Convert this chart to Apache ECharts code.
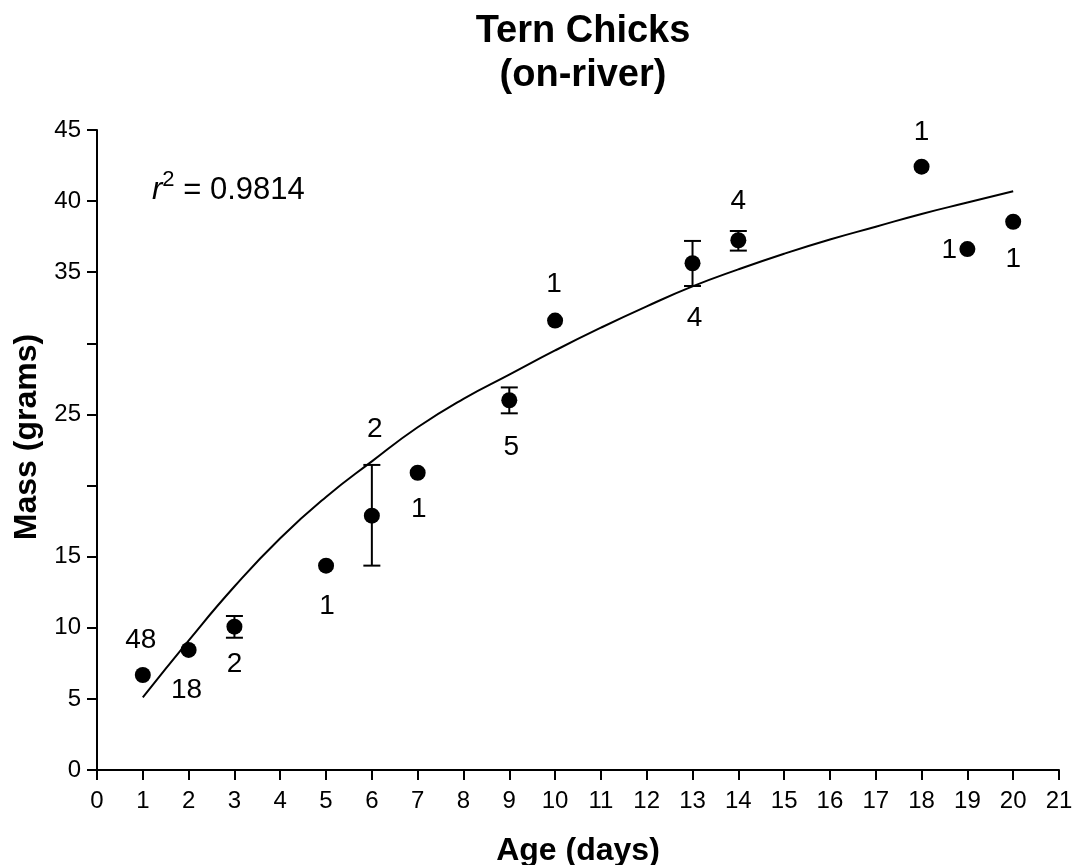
<!DOCTYPE html>
<html>
<head>
<meta charset="utf-8">
<title>Tern Chicks (on-river)</title>
<script src="https://cdn.jsdelivr.net/npm/echarts@6/dist/echarts.min.js"></script>
<style>
  html, body { margin: 0; padding: 0; background: #fff; }
  #chart { width: 1074px; height: 865px; }
</style>
</head>
<body>
<div id="chart"></div>
<script>
// Age (days) of each sampled group and mean mass (g)
const ages = [1, 2, 3, 5, 6, 7, 9, 10, 13, 14, 18, 19, 20];
const meanMass = [6.68, 8.44, 10.08, 14.37, 17.88, 20.9, 26.0, 31.6, 35.63, 37.25, 42.42, 36.63, 38.55];
// sample size printed next to each point
const sampleSizes = ["48", "18", "2", "1", "2", "1", "5", "1", "4", "4", "1", "1", "1"];

// error bars (low, high) where drawn
const errAges = [3, 6, 9, 13, 14];
const errLow = [9.30, 14.37, 25.08, 34.03, 36.52];
const errHigh = [10.83, 21.45, 26.9, 37.2, 37.9];

// fitted growth curve
const fitAges = [1, 2, 3, 4, 5, 6, 7, 8, 9, 10, 11, 12, 13, 14, 15, 16, 17, 18, 19, 20];
const fitMass = [5.1, 9.1, 12.9, 16.3, 19.2, 21.7, 24.1, 26.1, 27.8, 29.5, 31.1, 32.6, 34.0, 35.2, 36.3, 37.3, 38.2, 39.1, 39.9, 40.7];

// y tick labels (20 and 30 left blank as in the original)
const yTickLabels = ["0", "5", "10", "15", "", "25", "", "35", "40", "45"];

const FONT = "'Liberation Sans', Arial, sans-serif";
const INK = "#000";

// label placement next to each point (px offsets from the marker centre)
const labelOffsets = [
  [-2, -35], [-2, 40], [0, 38], [1, 41], [3, -86], [1, 37], [2, 47],
  [-1, -36], [2, 55], [0, -39], [0, -34], [-18, 1], [0, 38]
];

const chart = echarts.init(document.getElementById("chart"), null, { renderer: "canvas" });

const axisCommon = {
  type: "value",
  nameLocation: "middle",
  nameTextStyle: { fontFamily: FONT, fontSize: 32, fontWeight: "bold", color: INK },
  axisLine: { show: true, lineStyle: { color: INK, width: 2 } },
  axisTick: { show: true, inside: false, length: 10, lineStyle: { color: INK, width: 2 } },
  splitLine: { show: false },
};

chart.setOption({
  animation: false,
  backgroundColor: "#fff",
  title: {
    text: "Tern Chicks\n(on-river)",
    left: 578,
    textAlign: "center",
    top: 5,
    textStyle: { fontFamily: FONT, fontSize: 38, fontWeight: "bold", color: INK, lineHeight: 44 },
  },
  grid: { left: 97, right: 15, top: 130, bottom: 95, containLabel: false, outerBoundsMode: "none" },
  xAxis: Object.assign({}, axisCommon, {
    name: "Age (days)",
    nameGap: 65,
    min: 0,
    max: 21,
    interval: 1,
    axisLabel: { fontFamily: FONT, fontSize: 24, color: INK, margin: 19 },
  }),
  yAxis: Object.assign({}, axisCommon, {
    name: "Mass (grams)",
    nameGap: 54,
    nameTextStyle: Object.assign({}, axisCommon.nameTextStyle, { padding: [0, 0, 0, 26] }),
    min: 0,
    max: 45,
    interval: 5,
    axisLabel: {
      fontFamily: FONT, fontSize: 24, color: INK, margin: 16,
      formatter: function (v) { return yTickLabels[Math.round(v / 5)]; },
    },
  }),
  graphic: [{
    type: "text",
    left: 152,
    top: 169,
    style: {
      text: "{r|r}{sup|2}{eq| = 0.9814}",
      fill: INK,
      rich: {
        r: { fontFamily: FONT, fontSize: 31, fontStyle: "italic", fill: INK, verticalAlign: "bottom", lineHeight: 37 },
        sup: { fontFamily: FONT, fontSize: 22, fill: INK, verticalAlign: "top", lineHeight: 37, padding: [0, 0, 14, 0] },
        eq: { fontFamily: FONT, fontSize: 31, fill: INK, verticalAlign: "bottom", lineHeight: 37 },
      },
    },
  }],
  series: [
    {
      name: "fit",
      type: "line",
      data: fitAges.map((a, i) => [a, fitMass[i]]),
      smooth: true,
      showSymbol: false,
      lineStyle: { color: INK, width: 2 },
      z: 2,
    },
    {
      name: "error",
      type: "custom",
      data: errAges.map((a, i) => [a, errLow[i], errHigh[i]]),
      renderItem: function (params, api) {
        const lo = api.coord([api.value(0), api.value(1)]);
        const hi = api.coord([api.value(0), api.value(2)]);
        const half = 8.5;
        const style = { stroke: INK, lineWidth: 2 };
        return {
          type: "group",
          children: [
            { type: "line", shape: { x1: lo[0], y1: lo[1], x2: hi[0], y2: hi[1] }, style: style },
            { type: "line", shape: { x1: lo[0] - half, y1: lo[1], x2: lo[0] + half, y2: lo[1] }, style: style },
            { type: "line", shape: { x1: hi[0] - half, y1: hi[1], x2: hi[0] + half, y2: hi[1] }, style: style },
          ],
        };
      },
      z: 3,
    },
    {
      name: "mass",
      type: "scatter",
      symbol: "circle",
      symbolSize: 16,
      itemStyle: { color: INK, opacity: 1 },
      emphasis: { disabled: true },
      data: ages.map((a, i) => ({
        value: [a, meanMass[i]],
        label: {
          show: true,
          formatter: sampleSizes[i],
          position: "inside",
          offset: labelOffsets[i],
          color: INK,
          fontFamily: FONT,
          fontSize: 28,
        },
      })),
      z: 4,
    },
  ],
});
</script>
</body>
</html>
